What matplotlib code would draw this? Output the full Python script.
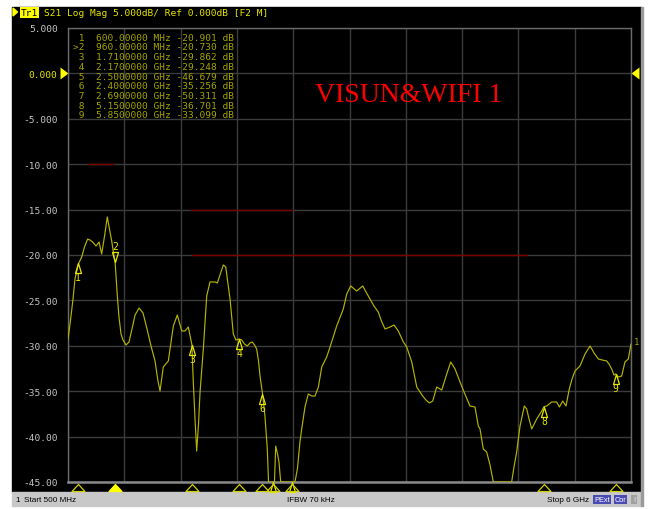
import matplotlib
matplotlib.use("Agg")
import matplotlib.pyplot as plt
from matplotlib.path import Path
from matplotlib.patches import Rectangle, Polygon
import numpy as np

# ---------- Data ----------
freq_ghz = [
    0.500, 0.520, 0.549, 0.568, 0.601, 0.634, 0.661, 0.692, 0.715, 0.741,
    0.774, 0.803, 0.829, 0.857, 0.884, 0.905, 0.927, 0.949, 0.960, 0.982,
    0.998, 1.018, 1.037, 1.067, 1.096, 1.125, 1.155, 1.194, 1.233, 1.272,
    1.311, 1.350, 1.379, 1.399, 1.431, 1.480, 1.529, 1.568, 1.611, 1.643,
    1.675, 1.710, 1.724, 1.741, 1.757, 1.775, 1.790, 1.822, 1.855, 1.887,
    1.936, 1.959, 1.985, 2.017, 2.041, 2.063, 2.083, 2.115, 2.141, 2.170,
    2.197, 2.224, 2.252, 2.278, 2.300, 2.322, 2.343, 2.361, 2.376, 2.400,
    2.424, 2.447, 2.459, 2.473, 2.500, 2.517, 2.529, 2.547, 2.561, 2.578,
    2.590, 2.619, 2.650, 2.690, 2.717, 2.741, 2.766, 2.783, 2.815, 2.847,
    2.881, 2.913, 2.946, 2.979, 3.027, 3.060, 3.125, 3.189, 3.223, 3.262,
    3.320, 3.379, 3.411, 3.450, 3.489, 3.531, 3.562, 3.597, 3.646, 3.685,
    3.727, 3.776, 3.809, 3.858, 3.907, 3.965, 3.997, 4.030, 4.063, 4.102,
    4.151, 4.200, 4.239, 4.281, 4.330, 4.369, 4.427, 4.476, 4.508, 4.525,
    4.557, 4.590, 4.623, 4.655, 4.691, 4.750, 4.798, 4.834, 4.857, 4.883,
    4.916, 4.958, 4.981, 5.004, 5.030, 5.079, 5.128, 5.150, 5.176, 5.225,
    5.274, 5.300, 5.333, 5.365, 5.397, 5.424, 5.453, 5.502, 5.551, 5.600,
    5.639, 5.681, 5.717, 5.762, 5.785, 5.811, 5.834, 5.850, 5.876, 5.909,
    5.941, 5.974, 6.000,
]
s21_db = [
    -29.25, -27.60, -24.85, -22.64, -20.99, -20.22, -19.12, -18.24, -18.35, -18.57,
    -19.01, -18.57, -19.89, -17.91, -15.81, -17.14, -18.46, -20.11, -20.73, -24.52,
    -26.83, -28.70, -29.36, -29.91, -29.58, -28.15, -26.61, -25.84, -26.39, -28.15,
    -30.02, -31.67, -33.88, -34.98, -32.33, -31.67, -27.82, -26.61, -28.37, -28.37,
    -27.93, -29.86, -33.99, -38.06, -41.59, -38.61, -35.09, -30.35, -24.52, -22.97,
    -22.97, -23.08, -22.20, -21.10, -21.32, -23.19, -24.85, -28.70, -29.36, -29.25,
    -29.36, -29.80, -30.02, -29.69, -29.58, -29.91, -30.35, -31.67, -33.33, -35.26,
    -37.73, -41.37, -46.00, -48.00, -46.68, -45.50, -41.04, -41.92, -42.80, -45.00,
    -47.00, -49.00, -50.00, -50.31, -47.00, -43.57, -40.59, -39.16, -36.74, -35.31,
    -35.53, -35.53, -34.54, -32.33, -31.23, -30.13, -27.82, -25.95, -24.30, -23.41,
    -23.97, -23.41, -24.07, -24.85, -25.62, -26.28, -27.27, -28.15, -27.93, -27.71,
    -28.37, -29.58, -30.13, -31.78, -34.54, -35.53, -35.97, -36.30, -36.08, -34.54,
    -34.87, -33.11, -31.78, -32.55, -33.99, -35.09, -36.63, -36.74, -38.83, -39.16,
    -41.37, -41.70, -43.13, -45.00, -47.00, -48.00, -47.00, -45.00, -43.35, -41.70,
    -38.83, -36.63, -36.96, -38.06, -39.16, -38.06, -37.18, -36.70, -36.63, -36.19,
    -36.19, -36.74, -36.08, -36.63, -34.76, -33.66, -32.77, -32.22, -30.90, -30.02,
    -30.79, -31.45, -31.56, -31.67, -32.00, -32.55, -33.22, -33.10, -33.44, -33.33,
    -31.78, -31.45, -29.80,
]

marker_ids = ["1", "2", "3", "4", "5", "6", "7", "8", "9"]
marker_freq_ghz = [0.60, 0.96, 1.71, 2.17, 2.50, 2.40, 2.69, 5.15, 5.85]
marker_freq_text = ["600.00000 MHz", "960.00000 MHz", "1.7100000 GHz",
                    "2.1700000 GHz", "2.5000000 GHz", "2.4000000 GHz",
                    "2.6900000 GHz", "5.1500000 GHz", "5.8500000 GHz"]
marker_db = [-20.901, -20.730, -29.862, -29.248, -46.679,
             -35.256, -50.311, -36.701, -33.099]
active_marker = "2"

limit_db = [-10, -15, -20]
limit_start_ghz = [0.70, 1.70, 1.71]
limit_stop_ghz = [0.94, 2.69, 4.98]

y_ticks = [5, 0, -5, -10, -15, -20, -25, -30, -35, -40, -45]
y_tick_labels = ["5.000", "0.000", "-5.000", "-10.00", "-15.00", "-20.00",
                 "-25.00", "-30.00", "-35.00", "-40.00", "-45.00"]

# ---------- Style ----------
W, H, DPI = 652, 510, 100
MONO = "DejaVu Sans Mono"
TRACE = "#b4b400"
TABLE = "#a3a300"
MARK = "#e6e600"
BRIGHT = "#ffff00"
GRID = "#3c3c3c"
Y_MIN, Y_MAX = -45, 5


def px(x, y):
    """pixel position (from top-left) -> figure fraction"""
    return x / W, 1 - y / H


fig = plt.figure(figsize=(W / DPI, H / DPI), dpi=DPI, facecolor="white")

# black instrument panel + status bar (behind the axes)
x0, y0 = px(12, 493)
fig.patches.append(Rectangle((x0, y0), (641 - 12) / W, (493 - 8) / H,
                             transform=fig.transFigure, color="black", zorder=-5))
x0, y0 = px(12, 507)
fig.patches.append(Rectangle((x0, y0), (641 - 12) / W, 14 / H,
                             transform=fig.transFigure, color="#c8c8c8", zorder=-5))
x0, y0 = px(641, 507)
fig.patches.append(Rectangle((x0, y0), 2 / W, (507 - 8) / H,
                             transform=fig.transFigure, color="#9a9a9a", zorder=-5))

l, b = px(68, 483)
ax = fig.add_axes([l, b, 563 / W, 454 / H])
ax.set_zorder(1)
ax.set_facecolor("black")
ax.set_xlim(0.5, 6.0)
ax.set_ylim(Y_MIN, Y_MAX)
ax.set_xticks(np.linspace(0.5, 6.0, 11))
ax.set_yticks(y_ticks)
ax.set_yticklabels(y_tick_labels)
ax.tick_params(axis="x", length=0, labelbottom=False)
ax.tick_params(axis="y", length=0, pad=7.5, labelsize=6.8, labelcolor="#c4c4c4")
for lab in ax.get_yticklabels():
    lab.set_family(MONO)
    if lab.get_text() == "0.000":
        lab.set_color(MARK)
ax.grid(True, color=GRID, lw=1.0)
for sp in ax.spines.values():
    sp.set_color("#6a6a6a")
    sp.set_linewidth(1.0)
ax.spines["bottom"].set_linewidth(1.8)
ax.spines["bottom"].set_color("#8a8a8a")

# limit lines
for db, f0, f1 in zip(limit_db, limit_start_ghz, limit_stop_ghz):
    ax.plot([f0, f1], [db, db], color="#7a0000", lw=1.0, zorder=2)

# trace (clipped to the screen like the analyzer does)
ax.plot(freq_ghz, np.clip(s21_db, Y_MIN, Y_MAX), color=TRACE, lw=0.85, zorder=3)

# marker symbols on the trace
up_tri = Path([(0, 0), (-0.3, -1), (0.3, -1), (0, 0)],
              [Path.MOVETO, Path.LINETO, Path.LINETO, Path.CLOSEPOLY])
dn_tri = Path([(0, 0), (-0.3, 1), (0.3, 1), (0, 0)],
              [Path.MOVETO, Path.LINETO, Path.LINETO, Path.CLOSEPOLY])
for mid, f, db in zip(marker_ids, marker_freq_ghz, marker_db):
    off_screen = db < Y_MIN
    y = float(np.clip(db, Y_MIN, Y_MAX))
    if mid == active_marker:
        ax.plot([f], [y], marker=dn_tri, ms=14.4, mfc="none", mec=MARK,
                mew=0.9, clip_on=False, zorder=4)
        ax.annotate(mid, (f, y), xytext=(0, 16), textcoords="offset pixels",
                    ha="center", va="center", color=MARK, fontsize=7,
                    family=MONO, annotation_clip=False)
    else:
        ax.plot([f], [y], marker=up_tri, ms=14.4, mfc="none", mec=MARK,
                mew=0.9, clip_on=False, zorder=4)
        if not off_screen:
            ax.annotate(mid, (f, y), xytext=(0, -14), textcoords="offset pixels",
                        ha="center", va="center", color=MARK, fontsize=7,
                        family=MONO, annotation_clip=False)

# marker position indicators under the grid
bot_tri = Path([(0, -0.22), (-0.72, -1), (0.72, -1), (0, -0.22)],
               [Path.MOVETO, Path.LINETO, Path.LINETO, Path.CLOSEPOLY])
for mid, f in zip(marker_ids, marker_freq_ghz):
    filled = mid == active_marker
    ax.plot([f], [Y_MIN], marker=bot_tri, ms=13, mfc=BRIGHT if filled else "none",
            mec=BRIGHT if filled else "#d0d000", mew=0.9, clip_on=False, zorder=5)

# reference level arrows
ref_l = Path([(0, 0), (-1, 0.75), (-1, -0.75), (0, 0)],
             [Path.MOVETO, Path.LINETO, Path.LINETO, Path.CLOSEPOLY])
ref_r = Path([(0, 0), (1, 0.75), (1, -0.75), (0, 0)],
             [Path.MOVETO, Path.LINETO, Path.LINETO, Path.CLOSEPOLY])
ax.plot([0.5], [0], marker=ref_l, ms=11.5, color=BRIGHT, mew=0, clip_on=False)
ax.plot([6.0], [0], marker=ref_r, ms=11.5, color=BRIGHT, mew=0, clip_on=False)

# trace number at the right end
ax.annotate("1", (freq_ghz[-1], s21_db[-1]), xytext=(3, 2),
            textcoords="offset pixels", ha="left", va="center",
            color=TABLE, fontsize=6.5, family=MONO, annotation_clip=False)

# marker table
for i, (mid, ft, db) in enumerate(zip(marker_ids, marker_freq_text, marker_db)):
    tag = (">" + mid) if mid == active_marker else (" " + mid)
    row = f"{tag}  {ft} {db:.3f} dB"
    fig.text(*px(73, 38.3 + i * 9.68), row, color=TABLE, fontsize=6.8,
             family=MONO, ha="left", va="center", zorder=5)

# title text on the screen
fig.text(*px(315, 102), "VISUN&WIFI 1", color="#ff0000", fontsize=20,
         family="Liberation Serif", ha="left", va="baseline", zorder=5)

# header line
fig.patches.append(Polygon([px(13, 9), px(17.5, 13), px(13, 17)], closed=True,
                           transform=fig.transFigure, color=BRIGHT))
fig.text(*px(21, 13.5), "Tr1", color="black", fontsize=6.8, family=MONO,
         ha="left", va="center",
         bbox=dict(boxstyle="square,pad=0.1", fc=BRIGHT, ec="none"))
fig.text(*px(44, 13.5), "S21 Log Mag 5.000dB/ Ref 0.000dB [F2 M]", color=MARK,
         fontsize=6.8, family=MONO, ha="left", va="center")

# status bar
SANS = "Liberation Sans"
SB = 5.9
fig.text(*px(15, 500.5), "1", fontsize=SB, family=SANS, ha="left", va="center")
fig.text(*px(24, 500.5), "Start 500 MHz", fontsize=SB, family=SANS,
         ha="left", va="center")
fig.text(*px(311, 500.5), "IFBW 70 kHz", fontsize=SB, family=SANS,
         ha="center", va="center")
fig.text(*px(589, 500.5), "Stop 6 GHz", fontsize=SB, family=SANS,
         ha="right", va="center")
fig.text(*px(602, 500.5), "PExt", fontsize=5.3, family=SANS, color="white",
         ha="center", va="center",
         bbox=dict(boxstyle="square,pad=0.12", fc="#4a4ab4", ec="none"))
fig.text(*px(620.5, 500.5), "Cor", fontsize=5.3, family=SANS, color="white",
         ha="center", va="center",
         bbox=dict(boxstyle="square,pad=0.12", fc="#4a4ab4", ec="none"))
fig.text(*px(634, 500.5), "!", fontsize=5.3, family=SANS, color="#f0f0f0",
         ha="center", va="center",
         bbox=dict(boxstyle="square,pad=0.2", fc="#a0a0a0", ec="none"))

fig.savefig("out.png", dpi=DPI, facecolor="white")
